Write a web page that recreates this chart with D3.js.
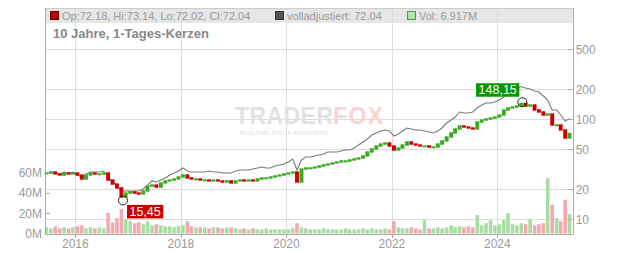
<!DOCTYPE html>
<html><head><meta charset="utf-8">
<script src="https://cdn.jsdelivr.net/npm/d3@7"></script>
<style>body{margin:0;background:#fff}svg{display:block;font-family:"Liberation Sans",Arial,sans-serif}</style>
</head><body><svg id="c" width="632" height="253"></svg>
<script>
// ---- data (monthly, from June 2015) ----
const firstMonth = "2015-06-15";
const closes = [29.0,29.7,28.4,27.7,29.0,28.4,29.0,27.7,25.3,27.7,29.0,28.4,28.4,29.0,24.7,22.5,20.6,16.7,18.3,18.8,
  18.3,17.9,19.2,21.5,22.0,21.0,23.1,24.2,24.7,25.3,26.5,27.7,25.9,25.3,25.3,24.7,24.7,24.2,24.7,24.2,
  23.6,24.2,23.1,24.2,24.7,24.2,24.7,24.2,25.3,25.9,25.9,26.5,27.1,27.7,28.4,29.0,29.7,23.6,31.8,32.6,
  32.6,33.3,34.1,35.0,35.7,36.6,37.4,38.3,38.3,39.2,40.1,41.0,43.0,47.1,50.5,54.1,56.6,57.9,54.1,49.3,
  51.6,55.3,59.3,56.6,55.3,54.1,54.1,52.8,52.8,56.6,60.7,66.5,73.0,80.0,85.7,83.8,81.9,80.0,94.0,98.4,
  100.7,103.0,105.4,110.4,123.9,129.7,132.7,135.8,144.0,135.8,139.0,123.9,118.3,110.4,113.0,87.7,87.7,78.2,65.0,72.04];
const adjusted = [29.0,29.7,29.0,28.4,29.7,29.0,29.7,28.4,25.9,28.4,29.7,29.7,29.7,30.4,26.5,23.6,22.0,19.2,19.2,19.2,
  19.2,19.2,20.1,22.0,24.2,23.6,24.7,25.9,27.7,29.0,30.4,32.6,30.4,29.7,29.7,29.7,29.7,30.4,29.7,29.7,
  29.0,29.0,29.0,30.4,31.1,31.1,31.1,31.8,32.6,33.3,32.6,32.6,34.1,34.9,35.7,37.4,40.1,31.1,39.2,42.0,
  42.0,43.0,44.0,45.0,47.1,47.1,47.1,48.2,49.3,49.3,51.6,55.3,59.3,63.5,69.7,73.0,76.4,78.2,76.4,68.1,
  71.3,76.4,81.9,80.0,78.2,78.2,76.4,74.7,73.0,76.4,81.9,91.8,98.4,105.4,118.3,115.6,115.6,118.3,129.7,139.0,
  145.5,145.5,148.9,156.0,167.1,179.1,187.5,200.9,212.8,205.6,200.9,191.9,187.5,171.0,156.0,123.9,123.9,110.4,96.2,101.9];
const volumes = [6,5,7,5,6,5,6,7,8,5,6,5,6,5,20,11,15,24,14,12,
  10,11,9,12,8,9,8,7,7,6,7,8,12,7,6,6,6,5,6,6,
  5,6,6,5,4,5,4,5,4,4,5,4,4,4,4,4,5,10,6,5,
  4,4,4,5,4,4,4,4,5,4,4,4,5,4,5,4,4,5,4,12,
  6,5,5,6,5,4,13,5,5,6,5,6,8,6,7,6,7,6,18,8,
  10,13,8,9,13,20,9,8,10,9,14,8,9,10,54,28,15,12,33,19];
const priceTicks = [10,20,50,100,200,500];
const volumeTicks = [0,20,40,60];
const yearTicks = [2016,2018,2020,2022,2024];
const lowMark = {date:"2016-11-26", value:15.45, label:"15,45"};
const highMark = {date:"2024-06-22", value:148.15, label:"148,15"};
const legendItems = [
  {text:"Op:72.18, Hi:73.14, Lo:72.02, Cl:72.04", fill:"#c00000", stroke:"#600"},
  {text:"volladjustiert: 72.04", fill:"#555", stroke:"#333"},
  {text:"Vol: 6.917M", fill:"#b8e3b0", stroke:"#3a3"}
];
const title = "10 Jahre, 1-Tages-Kerzen";

// ---- layout ----
const L = 45, R = 572.7, T = 8, B = 234;
const svg = d3.select("#c");
const parse = d3.timeParse("%Y-%m-%d");
const months = d3.range(closes.length).map(i => d3.timeMonth.offset(parse(firstMonth), i));

const x = d3.scaleTime().domain([new Date(2015,5,5), new Date(2025,5,6)]).range([L, R]);
const y = d3.scaleLog().domain([10,100]).range([219.3,119.3]);
const yv = d3.scaleLinear().domain([0,20]).range([233.5,213]);
const cr = v => Math.round(v) + 0.5;

// header band
svg.append("rect").attr("x", L).attr("y", T).attr("width", R-L).attr("height", 15).attr("fill", "#e6e6e6");

// grid
const grid = svg.append("g").attr("stroke", "#dcdcdc").attr("stroke-width", 1);
priceTicks.forEach(t => grid.append("line").attr("x1", L).attr("x2", R).attr("y1", cr(y(t))).attr("y2", cr(y(t))));
yearTicks.forEach(yr => {
  const xx = cr(x(new Date(yr,0,1)));
  grid.append("line").attr("x1", xx).attr("x2", xx).attr("y1", T).attr("y2", B);
});
svg.append("line").attr("x1", L).attr("x2", R).attr("y1", T+0.5).attr("y2", T+0.5).attr("stroke", "#ccc");

// watermark
const wm = svg.append("g").attr("font-weight", "bold");
wm.append("text").attr("x", 235).attr("y", 124).attr("font-size", 23).attr("fill", "#e2e2e2").attr("textLength", 98).text("TRADER");
wm.append("text").attr("x", 333).attr("y", 124).attr("font-size", 23).attr("fill", "#f9d3d3").attr("textLength", 50).text("FOX");
wm.append("text").attr("x", 240).attr("y", 135).attr("font-size", 5).attr("fill", "#e4e4e4").attr("textLength", 88).text("REALTIME STOCK SCREENING");

const plot = svg.append("g");
// volume
const bw = x(months[1]) - x(months[0]);
plot.append("g").selectAll("rect").data(volumes).join("rect")
  .attr("x", (d,i) => x(months[i]) - bw/2 + 0.4)
  .attr("width", bw - 0.8)
  .attr("y", d => yv(d))
  .attr("height", d => yv(0) - yv(d))
  .attr("fill", (d,i) => (i > 0 && closes[i] < closes[i-1]) ? "#f3a7ae" : "#a9dca3");

// adjusted line
plot.append("path").datum(adjusted)
  .attr("d", d3.line().x((d,i) => x(months[i])).y(d => y(d)))
  .attr("fill", "none").attr("stroke", "#7a7a7a").attr("stroke-width", 1.1);

// candles
plot.append("g").selectAll("rect").data(closes).join("rect")
  .attr("x", (d,i) => x(months[i]) - bw/2 + 0.2)
  .attr("width", bw - 0.4)
  .attr("y", (d,i) => Math.min(y(d), y(i ? closes[i-1] : d)) - 0.7)
  .attr("height", (d,i) => Math.max(2, Math.abs(y(d) - y(i ? closes[i-1] : d)) + 1.4))
  .attr("fill", (d,i) => (i > 0 && d < closes[i-1]) ? "#cc0000" : "#3aaa22");

// annotations
function mark(m, color, below) {
  const cx = x(parse(m.date)), cy = y(m.value);
  svg.append("circle").attr("cx", cx).attr("cy", cy).attr("r", 4.5).attr("fill", "none").attr("stroke", "#222").attr("stroke-width", 1);
  const t = svg.append("text").attr("font-size", 12.5).attr("fill", "#fff").text(m.label);
  const w = t.node().getComputedTextLength() + 5, h = 13.5;
  const bx = below ? cx + 4 : cx - 3 - w;
  const by = below ? cy + 4.5 : cy - 5.5 - h;
  svg.insert("rect", () => t.node()).attr("x", bx).attr("y", by).attr("width", w).attr("height", h).attr("fill", color);
  t.attr("x", bx + 2.5).attr("y", by + 11);
}
mark(lowMark, "#cc0000", true);
mark(highMark, "#009900", false);

// axes
const ax = svg.append("g").attr("stroke", "#aaa");
ax.append("line").attr("x1", L+0.5).attr("x2", L+0.5).attr("y1", T).attr("y2", B);
ax.append("line").attr("x1", cr(R)).attr("x2", cr(R)).attr("y1", T).attr("y2", B);
ax.append("line").attr("x1", L).attr("x2", R+1).attr("y1", B+0.5).attr("y2", B+0.5);
const lab = svg.append("g").attr("font-size", 12).attr("fill", "#999");
priceTicks.forEach(t => {
  ax.append("line").attr("x1", R-5).attr("x2", R).attr("y1", cr(y(t))).attr("y2", cr(y(t)));
  lab.append("text").attr("x", R+3).attr("y", y(t)+4.5).text(t);
});
volumeTicks.forEach(t => {
  ax.append("line").attr("x1", L).attr("x2", L+5).attr("y1", cr(yv(t))).attr("y2", cr(yv(t)));
  lab.append("text").attr("x", 42).attr("y", yv(t)+4.5).attr("text-anchor", "end").text(t + "M");
});
yearTicks.forEach(yr => {
  const xx = x(new Date(yr,0,1));
  ax.append("line").attr("x1", cr(xx)).attr("x2", cr(xx)).attr("y1", B).attr("y2", B+4);
  lab.append("text").attr("x", xx).attr("y", 248).attr("text-anchor", "middle").text(yr);
});

// legend
const lg = svg.append("g").attr("font-size", 11).attr("fill", "#999");
const lx = [50, 275, 407];
legendItems.forEach((it, i) => {
  lg.append("rect").attr("x", lx[i]+0.5).attr("y", 11.5).attr("width", 8).attr("height", 8).attr("fill", it.fill).attr("stroke", it.stroke);
  lg.append("text").attr("x", lx[i]+12).attr("y", 19.5).text(it.text);
});
svg.append("text").attr("x", 53).attr("y", 37.5).attr("font-size", 13).attr("font-weight", "bold").attr("fill", "#888").text(title);
</script></body></html>
